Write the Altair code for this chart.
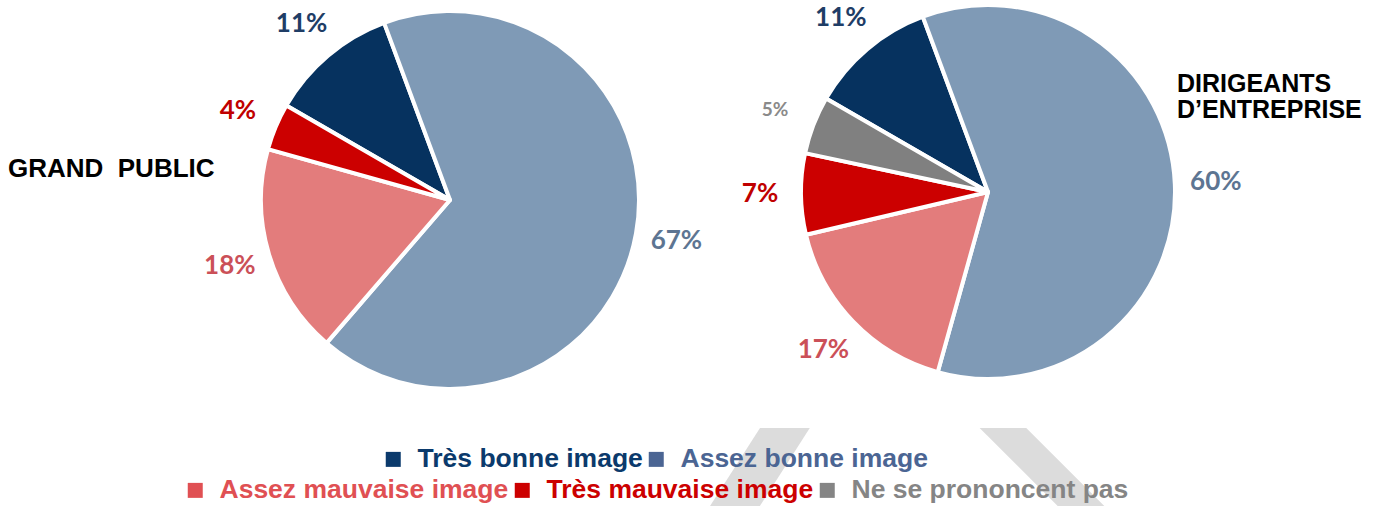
import math
import altair as alt
import pandas as pd

# ---------------- data ----------------
categories = ["Très bonne image", "Assez bonne image", "Assez mauvaise image",
              "Très mauvaise image", "Ne se prononcent pas"]
grand_public = [11, 67, 18, 4]
dirigeants = [11, 60, 17, 7, 5]
labels_gp = ["11%", "67%", "18%", "4%"]
labels_dir = ["11%", "60%", "17%", "7%", "5%"]
legend_row1 = categories[:2]
legend_row2 = categories[2:]
title_gp = "GRAND  PUBLIC"
title_dir = ["DIRIGEANTS", "D’ENTREPRISE"]

# ---------------- styles ----------------
slice_colors = ["#06325f", "#7f9ab6", "#e37c7c", "#cc0000", "#808080"]
label_colors = ["#1f3d66", "#5d7592", "#cb5058", "#c00000", "#8a8a8a"]
legend_colors = ["#0b3a6c", "#4b6593", "#e05053", "#cc0000", "#858585"]
START = math.radians(300)
theta_scale = alt.Scale(domain=[0, 100], range=[START, START + 2 * math.pi])
W, H = 1384, 506


def pie(values, labels, cx, cy, r):
    n = len(values)
    df = pd.DataFrame({"cat": categories[:n], "val": values, "lab": labels,
                       "ordre": list(range(n))})
    base = alt.Chart(df).encode(
        theta=alt.Theta("val:Q", stack=True, scale=theta_scale),
        order=alt.Order("ordre:Q"),
        x=alt.value(cx), y=alt.value(cy),
    )
    arcs = base.mark_arc(radius=r, stroke="white", strokeWidth=4, strokeJoin="round").encode(
        color=alt.Color("cat:N", scale=alt.Scale(domain=categories, range=slice_colors), legend=None)
    )
    text = base.mark_text(radius=r + 41, font="Lato", fontWeight="bold").encode(
        text="lab:N",
        fill=alt.Fill("cat:N", scale=alt.Scale(domain=categories, range=label_colors), legend=None),
        size=alt.condition(alt.datum.cat == "Ne se prononcent pas", alt.value(19), alt.value(26)),
    )
    return alt.layer(arcs, text)


def color_expr(cats, cols):
    expr = "'black'"
    for c, col in reversed(list(zip(cats, cols))):
        expr = f"datum.value == '{c}' ? '{col}' : ({expr})"
    return expr


def legend_layer(cats, cols, lx, ly):
    df = pd.DataFrame({"cat": cats})
    return alt.Chart(df).mark_square(size=0).encode(
        x=alt.value(0), y=alt.value(0),
        color=alt.Color(
            "cat:N",
            scale=alt.Scale(domain=cats, range=cols),
            legend=alt.Legend(
                orient="none", legendX=lx, legendY=ly, direction="horizontal",
                title=None, padding=0, labelFont="Liberation Sans", labelFontSize=26.5,
                labelFontWeight="bold", labelLimit=0, symbolType="square",
                symbolSize=225, symbolStrokeWidth=0, symbolOpacity=1,
                labelOffset=11, columnPadding=-2,
                labelColor={"expr": color_expr(cats, cols)},
            ),
        ),
    )


dummy = pd.DataFrame({"d": [0]})
band1 = alt.Chart(dummy).mark_rule(color="#dcdcdc", strokeWidth=42).encode(
    x=alt.value(806), y=alt.value(395), x2=alt.value(726), y2=alt.value(520))
band2 = alt.Chart(dummy).mark_rule(color="#dcdcdc", strokeWidth=33).encode(
    x=alt.value(970), y=alt.value(395), x2=alt.value(1096), y2=alt.value(521))
mask = alt.Chart(dummy).mark_rect(color="white").encode(
    x=alt.value(640), x2=alt.value(1160), y=alt.value(370), y2=alt.value(428))

t1 = alt.Chart(dummy).mark_text(
    font="Liberation Sans", fontWeight="bold", fontSize=26, align="left",
    baseline="alphabetic", color="black").encode(
    text=alt.value(title_gp.replace(" ", "\u00a0")), x=alt.value(8), y=alt.value(177))
t2 = alt.Chart(dummy).mark_text(
    font="Liberation Sans", fontWeight="bold", fontSize=25, align="left",
    baseline="alphabetic", color="black", lineHeight=26).encode(
    text=alt.value(title_dir), x=alt.value(1177), y=alt.value(92))

pie1 = pie(grand_public, labels_gp, 450, 200, 189)
pie2 = pie(dirigeants, labels_dir, 988, 192, 187)

leg1 = legend_layer(legend_row1, legend_colors[:2], 380, 446)
leg2 = legend_layer(legend_row2, legend_colors[2:], 182, 477)

chart = alt.layer(band1, band2, mask, pie1, pie2, t1, t2, leg1, leg2).resolve_scale(
    color="independent"
).properties(
    width=W, height=H, autosize=alt.AutoSizeParams(type="none"), padding=0
).configure_view(strokeWidth=0)

chart.save("out.html", embed_options={"renderer": "svg", "actions": False})
